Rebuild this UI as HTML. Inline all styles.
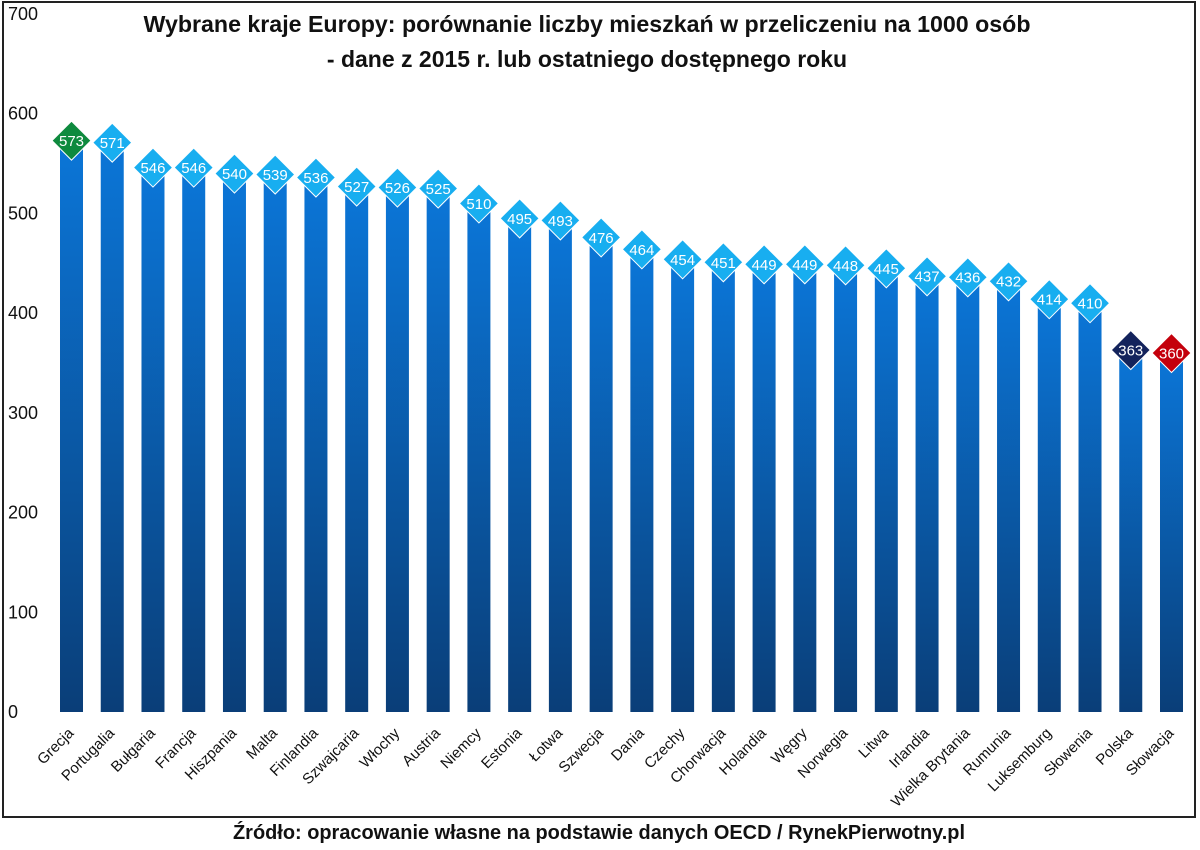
<!DOCTYPE html>
<html><head><meta charset="utf-8"><style>
body{margin:0;background:#fff;width:1200px;height:845px;overflow:hidden;font-family:"Liberation Sans",sans-serif}
</style></head><body>
<svg id="chart" width="1200" height="845" xmlns="http://www.w3.org/2000/svg">
<defs><linearGradient id="bg" x1="0" y1="0" x2="0" y2="1"><stop offset="0" stop-color="#0b76d8"/><stop offset="1" stop-color="#0a3e78"/></linearGradient></defs>
<rect x="3" y="2" width="1192" height="815" fill="none" stroke="#222" stroke-width="2"/>
<text x="587" y="32" text-anchor="middle" font-size="23" font-weight="bold" fill="#111" textLength="887" lengthAdjust="spacingAndGlyphs">Wybrane kraje Europy: porównanie liczby mieszkań w przeliczeniu na 1000 osób</text>
<text x="587" y="67" text-anchor="middle" font-size="23" font-weight="bold" fill="#111">- dane z 2015 r. lub ostatniego dostępnego roku</text>
<text x="599" y="839" text-anchor="middle" font-size="20" font-weight="bold" fill="#111" textLength="732" lengthAdjust="spacingAndGlyphs">Źródło: opracowanie własne na podstawie danych OECD / RynekPierwotny.pl</text>
<g id="axis"></g><g id="bars"></g>
</svg>
<script>
const categories=["Grecja","Portugalia","Bułgaria","Francja","Hiszpania","Malta","Finlandia","Szwajcaria","Włochy","Austria","Niemcy","Estonia","Łotwa","Szwecja","Dania","Czechy","Chorwacja","Holandia","Węgry","Norwegia","Litwa","Irlandia","Wielka Brytania","Rumunia","Luksemburg","Słowenia","Polska","Słowacja"];
const values=[573,571,546,546,540,539,536,527,526,525,510,495,493,476,464,454,451,449,449,448,445,437,436,432,414,410,363,360];
const yTicks=[0,100,200,300,400,500,600,700];
const specialColors={"Grecja":"#0e8a3e","Polska":"#13235c","Słowacja":"#c4000c"};
const NS="http://www.w3.org/2000/svg";
const n=categories.length;
const x0=71.5,x1=1171.5;
const xs=i=>x0+(x1-x0)*i/(n-1);
const y=v=>712-v*(698/700);
const ax=document.getElementById('axis'),bars=document.getElementById('bars');
function mk(tag,attrs,parent){const e=document.createElementNS(NS,tag);for(const k in attrs)e.setAttribute(k,attrs[k]);parent.appendChild(e);return e;}
yTicks.forEach(t=>{const e=mk('text',{x:8,y:y(t)+6,'font-size':18,fill:'#111'},ax);


e.textContent=t;});
const bw=23,d=19.5;
categories.forEach((c,i)=>{const cx=xs(i),v=values[i];
const r=mk('rect',{x:cx-bw/2,y:y(v),width:bw,height:y(0)-y(v),fill:'url(#bg)'},bars);


const cy=y(v);
const p=mk('polygon',{points:`${cx},${cy-d} ${cx+d},${cy} ${cx},${cy+d} ${cx-d},${cy}`,fill:specialColors[c]||'#18aef0',stroke:'#fff','stroke-width':1},bars);


const t=mk('text',{x:cx,y:cy+5.5,'text-anchor':'middle','font-size':15,fill:'#fff'},bars);


t.textContent=v;
const lx=cx+3,ly=734;
const l=mk('text',{x:lx,y:ly,'text-anchor':'end','font-size':15,fill:'#111',transform:`rotate(-45 ${lx} ${ly})`},bars);


l.textContent=c;
});
</script>
</body></html>
